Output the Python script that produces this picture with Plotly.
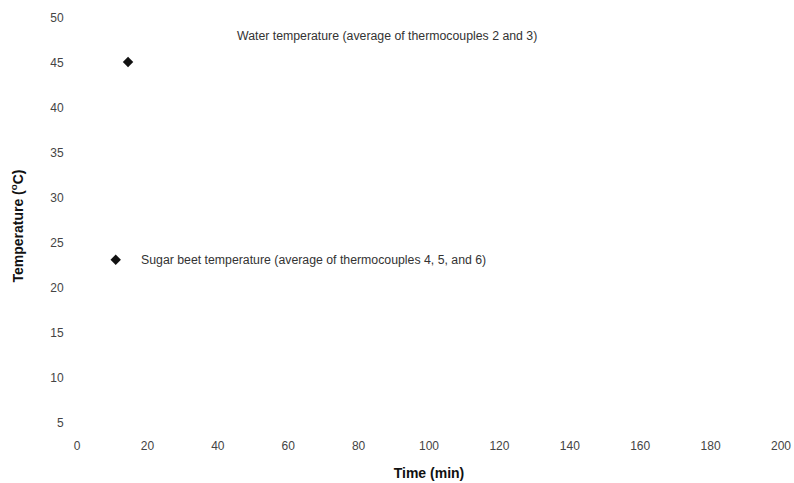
import plotly.graph_objects as go

# Data
series_names = ["Water temperature (average of thermocouples 2 and 3)",
                "Sugar beet temperature (average of thermocouples 4, 5, and 6)"]
time_min = [14.5, 11]
temperature_c = [45.1, 23.1]

x_ticks = [0, 20, 40, 60, 80, 100, 120, 140, 160, 180, 200]
y_ticks = [5, 10, 15, 20, 25, 30, 35, 40, 45, 50]

font_family = "Liberation Sans, Arial, sans-serif"

fig = go.Figure()
fig.add_trace(go.Scatter(
    x=time_min, y=temperature_c, mode="markers",
    marker=dict(symbol="diamond", size=8, color="#111111"),
    showlegend=False, hoverinfo="skip", cliponaxis=False))

# Labels placed next to each marker
label_pos = [(45.0, 48.0), (17.6, 23.1)]
for name, (lx, ly) in zip(series_names, label_pos):
    fig.add_annotation(x=lx, y=ly, text=name, showarrow=False,
                       xanchor="left", yanchor="middle",
                       font=dict(family=font_family, size=12.3, color="#333333"))

fig.update_layout(
    width=794, height=483,
    margin=dict(l=77, r=13, t=18, b=49, autoexpand=False),
    paper_bgcolor="white", plot_bgcolor="white",
    font=dict(family=font_family),
    xaxis=dict(range=[0, 200], tickvals=x_ticks, showgrid=False, zeroline=False,
               showline=False, ticks="outside", ticklen=1, tickcolor="white",
               automargin=False,
               tickfont=dict(size=12, color="#444444"),
               title=dict(text="<b>Time (min)</b>", standoff=15,
                          font=dict(size=14, color="#111111"))),
    yaxis=dict(range=[3.7, 50], tickvals=y_ticks, showgrid=False, zeroline=False,
               showline=False, ticks="outside", ticklen=10, tickcolor="white",
               automargin=False,
               tickfont=dict(size=12, color="#444444"),
               title=dict(text="<b>Temperature (<sup>o</sup>C)</b>", standoff=23,
                          font=dict(size=14, color="#111111"))),
)

fig.write_html("out.html",
               config={"displayModeBar": False},
               post_script="document.body.style.margin='0';"
                           "document.body.style.overflow='hidden';")
